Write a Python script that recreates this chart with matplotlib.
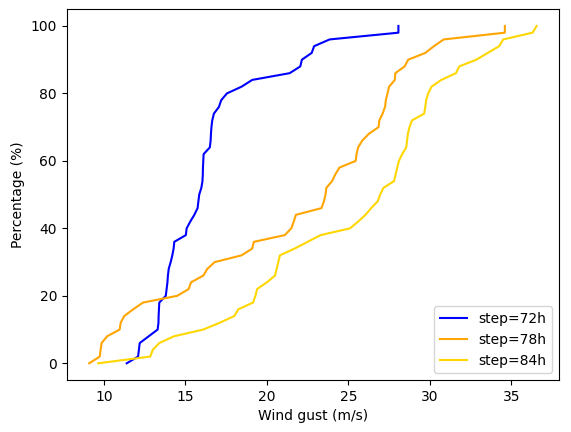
import numpy as np
import matplotlib
matplotlib.use("Agg")
import matplotlib.pyplot as plt

# percentage levels (every 2 %)
pct = np.arange(0, 101, 2)

# sorted wind gust values per lead time (m/s)
gust_72h = [11.4, 12.1, 12.15, 12.2, 12.75, 13.3, 13.35, 13.36, 13.38, 13.4,
            13.8, 13.85, 13.9, 13.93, 13.98, 14.1, 14.2, 14.28, 14.32, 15.03,
            15.08, 15.3, 15.55, 15.75, 15.8, 15.85, 15.98, 16.05, 16.07, 16.08,
            16.1, 16.12, 16.5, 16.55, 16.57, 16.6, 16.65, 16.75, 17.06, 17.2,
            17.55, 18.45, 19.1, 21.4, 22.05, 22.15, 22.75, 22.9, 23.85, 28.07,
            28.07]
gust_78h = [9.1, 9.75, 9.8, 9.86, 10.2, 10.97, 11.03, 11.25, 11.8, 12.4,
            14.5, 15.2, 15.35, 16.1, 16.35, 16.8, 18.45, 19.1, 19.2, 21.1,
            21.5, 21.65, 21.78, 23.35, 23.5, 23.6, 23.65, 24.0, 24.2, 24.45,
            25.45, 25.5, 25.6, 25.85, 26.25, 26.85, 26.9, 27.1, 27.25, 27.3,
            27.4, 27.5, 27.85, 27.88, 28.45, 28.67, 29.72, 30.25, 30.85, 34.6,
            34.6]
gust_84h = [9.65, 12.85, 13.0, 13.4, 14.3, 16.1, 17.1, 18.0, 18.25, 19.15,
            19.3, 19.4, 20.0, 20.5, 20.6, 20.7, 20.8, 21.7, 22.5, 23.3,
            25.1, 25.6, 26.05, 26.4, 26.8, 26.95, 27.15, 27.8, 27.9, 28.0,
            28.1, 28.3, 28.55, 28.6, 28.65, 28.75, 28.9, 29.65, 29.72, 29.77,
            29.9, 30.1, 30.7, 31.6, 31.8, 32.85, 33.55, 34.25, 34.5, 36.3,
            36.55]

steps = ["step=72h", "step=78h", "step=84h"]
colors = ["blue", "orange", "gold"]

fig = plt.figure(figsize=(5.71, 4.32), dpi=100)
ax = fig.add_axes([0.117, 0.12, 0.862, 0.859])

for vals, lab, c in zip([gust_72h, gust_78h, gust_84h], steps, colors):
    ax.plot(vals, pct, color=c, label=lab)

ax.set_xlabel("Wind gust (m/s)")
ax.set_ylabel("Percentage (%)")
ax.legend(loc="lower right")

fig.savefig("out.png", dpi=100)
